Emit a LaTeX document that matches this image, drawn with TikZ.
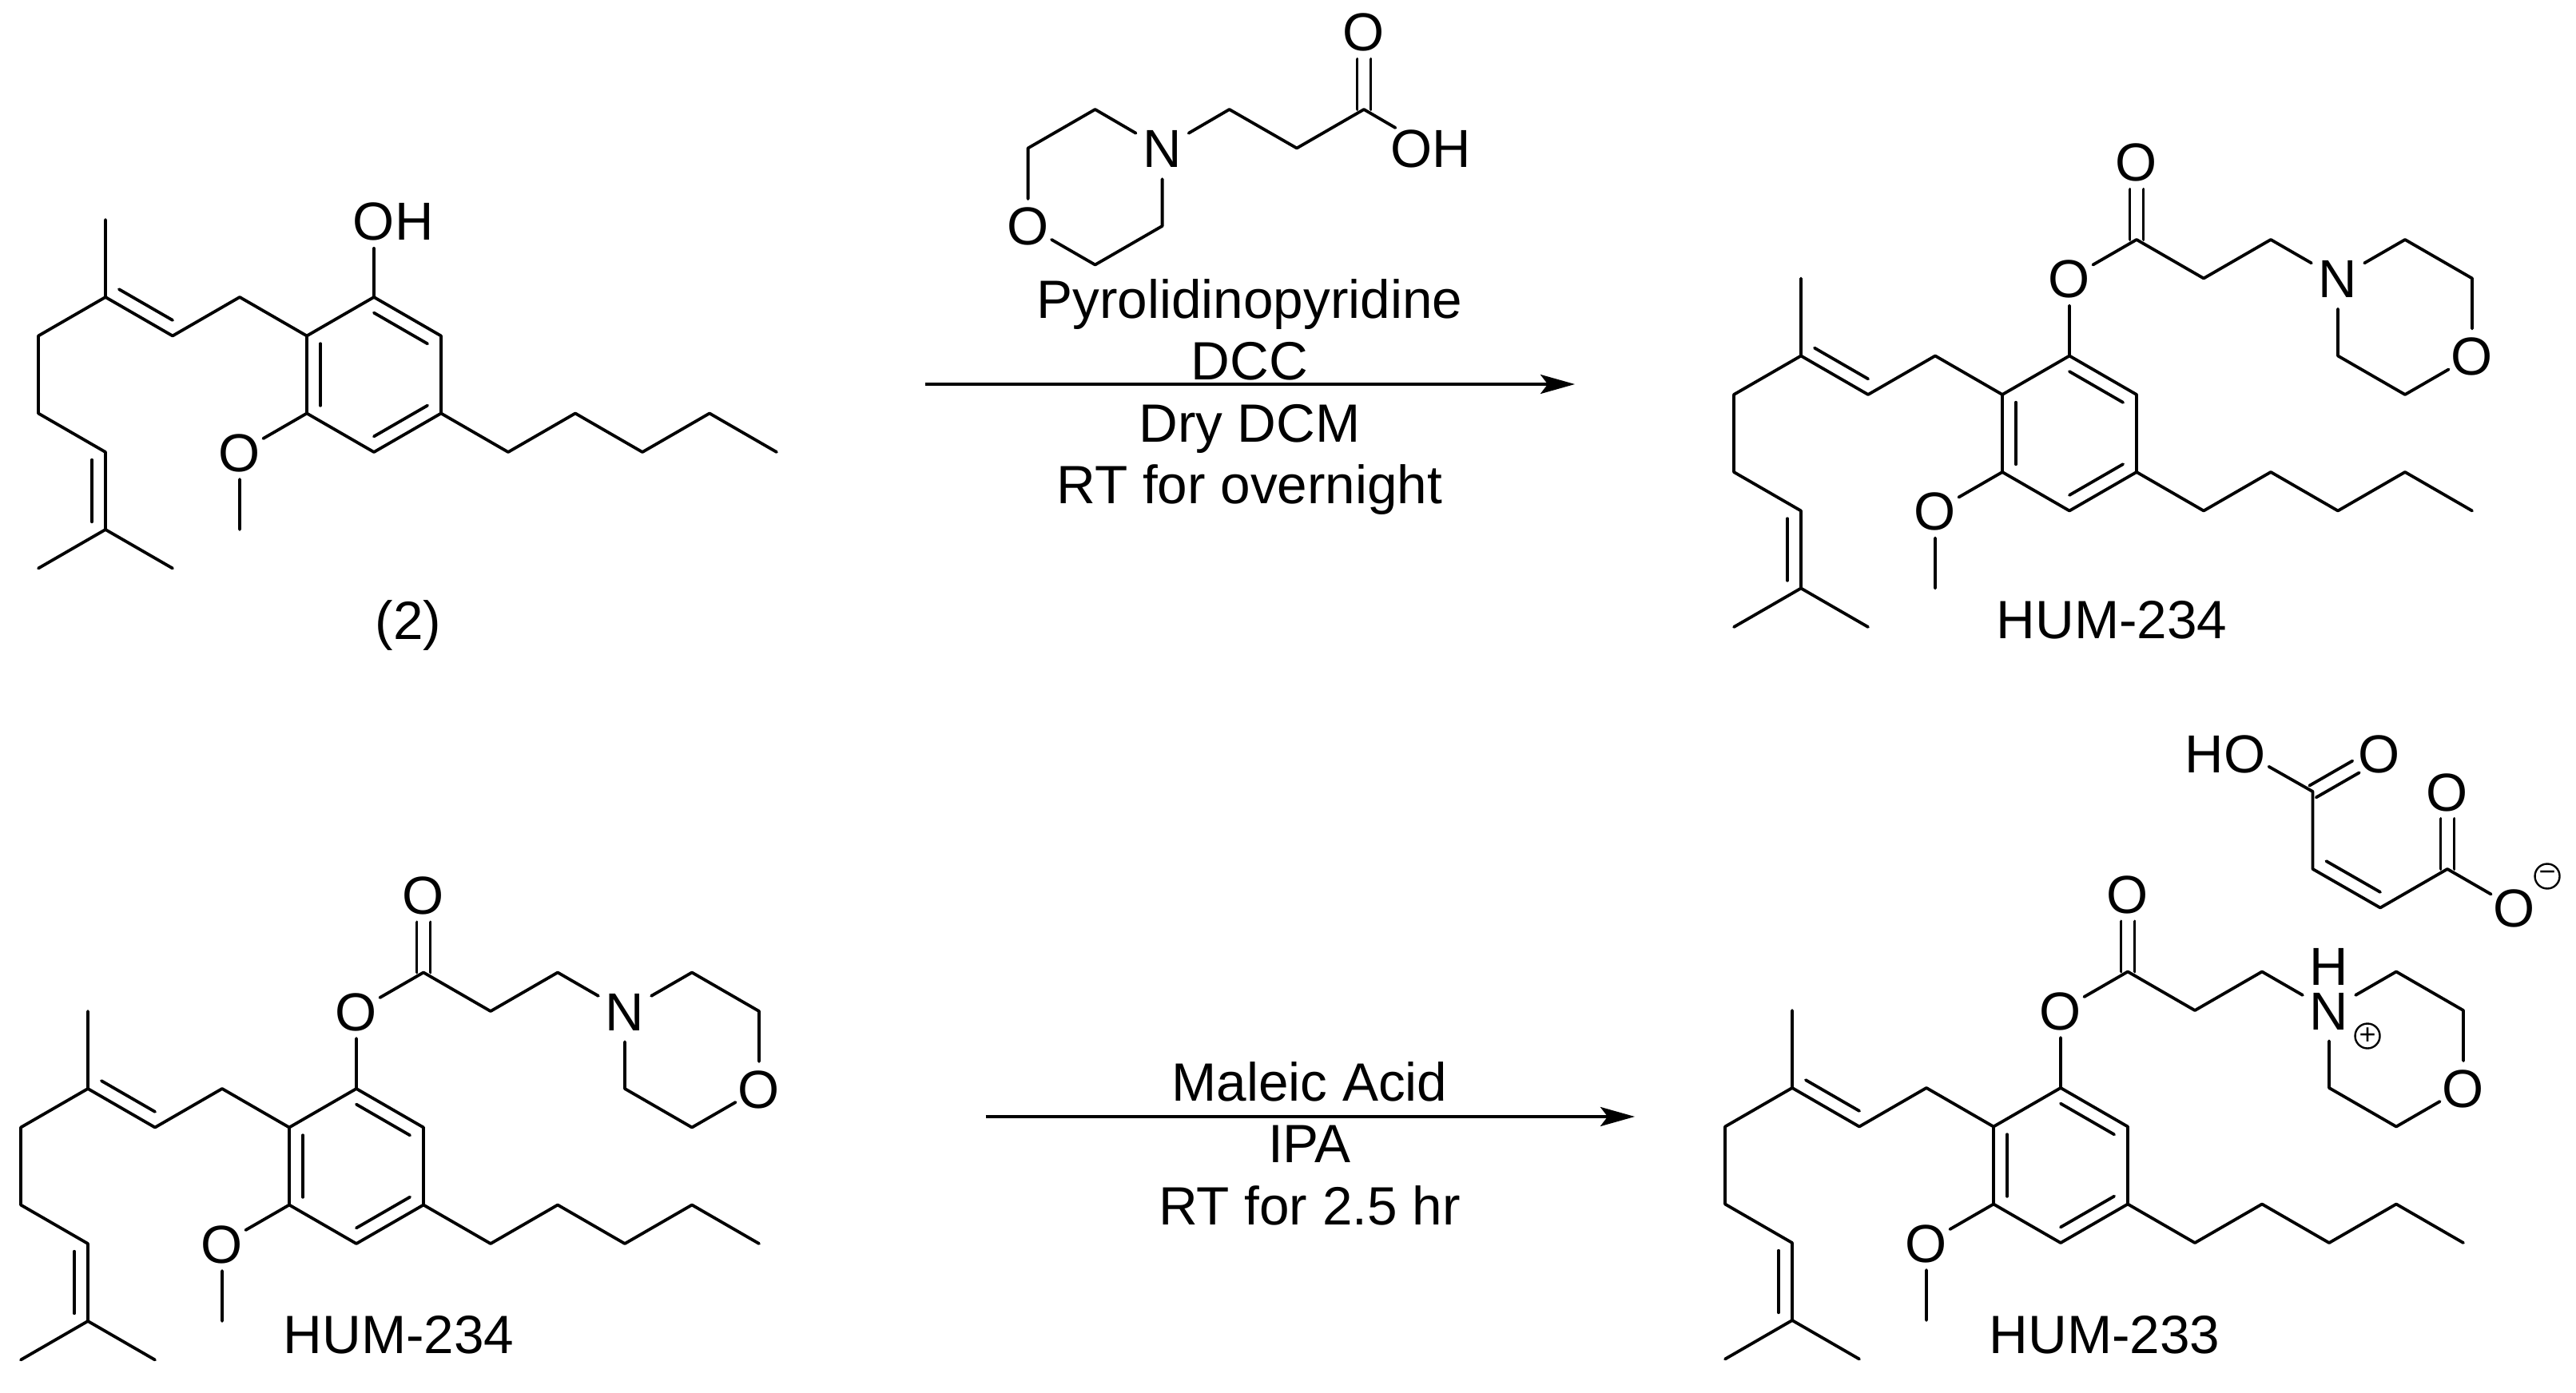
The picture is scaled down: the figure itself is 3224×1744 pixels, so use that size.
\documentclass[tikz,border=0pt]{standalone}
\usepackage{fontspec}
\setmainfont{Liberation Sans}
\usetikzlibrary{calc, arrows.meta}
\newcommand{\dbond}[2]{\draw[bond] ($(#1)!.1!(#2)!17pt!90:(#2)$) -- ($(#2)!.1!(#1)!17pt!-90:(#1)$);}
\newcommand{\cobond}[2]{
	\draw[bond, shorten >=34pt] ($(#1)!8.5pt!90:(#2)$) -- ($(#2)!8.5pt!-90:(#1)$);
	\draw[bond, shorten >=34pt] ($(#1)!8.5pt!-90:(#2)$) -- ($(#2)!8.5pt!90:(#1)$);
}

\begin{document}
\begin{tikzpicture}[x=1pt, y=-1pt]
\tikzset{
bond/.style={line width=3.8pt, line cap=round, line join=round}, % every skeleton line
atom/.style={circle, inner sep=-1pt, outer sep=0pt, text height=48pt, text depth=0pt, font=\fontsize{67}{67}\selectfont}, % the bonds stop at the circle
txt/.style={inner sep=0pt, text height=48pt, text depth=14pt, font=\fontsize{67.5}{67.5}\selectfont},
chg/.style={circle, draw, line width=2.4pt, minimum size=31pt, inner sep=0pt, font=\fontsize{36}{36}\selectfont},
rxn/.style={line width=3.7pt, -{Stealth[length=43pt, width=24pt, inset=9pt]}},
% prenyl and pentyl substituted anisole, origin at the branching carbon
pics/cbg/.style={code={
	\coordinate (me) at (0,-97);
	\coordinate (c3) at (0,0);
	\coordinate (c4) at (84,48.5);
	\coordinate (c5) at (168,0);
	\coordinate (r1) at (252,48.5);
	\coordinate (r2) at (336,0);
	\coordinate (r3) at (420,48.5);
	\coordinate (r4) at (420,145.5);
	\coordinate (r5) at (336,194);
	\coordinate (r6) at (252,145.5);
	\node[atom] (om) at (168,194) {O};
	\coordinate (mm) at (168,291);
	\coordinate (p1) at (504,194);
	\coordinate (p2) at (588,145.5);
	\coordinate (p3) at (672,194);
	\coordinate (p4) at (756,145.5);
	\coordinate (p5) at (840,194);
	\coordinate (l1) at (-84,48.5);
	\coordinate (l2) at (-84,145.5);
	\coordinate (l3) at (0,194);
	\coordinate (l4) at (0,291);
	\coordinate (l5) at (-84,339.5);
	\coordinate (l6) at (84,339.5);
	\draw[bond] (me) -- (c3) -- (c4) -- (c5) -- (r1) -- (r2) -- (r3) -- (r4) -- (r5) -- (r6) -- (r1);
	\draw[bond] (r4) -- (p1) -- (p2) -- (p3) -- (p4) -- (p5);
	\draw[bond] (c3) -- (l1) -- (l2) -- (l3) -- (l4) -- (l5);
	\draw[bond] (l4) -- (l6);
	\draw[bond] (r6) -- (om) -- (mm);
	\dbond{c3}{c4}
	\dbond{r3}{r2}
	\dbond{r1}{r6}
	\dbond{r5}{r4}
	\dbond{l4}{l3}
}},
% ester arm with morpholine, same origin as cbg
pics/arm/.style={code={
	\node[atom] (eo) at (336,-97) {O};
	\coordinate (ec) at (420,-145.5);
	\node[atom] (co) at (420,-242.5) {O};
	\coordinate (h1) at (504,-97);
	\coordinate (h2) at (588,-145.5);
	\node[atom, inner sep=3pt] (n) at (672,-97) {N};
	\coordinate (m1) at (756,-145.5);
	\coordinate (m2) at (840,-97);
	\node[atom] (mo) at (840,0) {O};
	\coordinate (m3) at (756,48.5);
	\coordinate (m4) at (672,0);
	\draw[bond] (r2) -- (eo) -- (ec) -- (h1) -- (h2) -- (n) -- (m1) -- (m2) -- (mo) -- (m3) -- (m4) -- (n);
	\cobond{ec}{co}
}},
}
	\useasboundingbox (0,0) rectangle (3224,1744);

	% top left
	\pic (a) at (132,372) {cbg};
	\node[atom] (aoh) at (468,277) {O};
	\node[atom, right of=aoh, node distance=51pt] (aohh) {H};
	\draw[bond] (ar2) -- (aoh);
	\node[txt] (alabel) at (511,783) {(2)};

	% reagent above the first arrow
	\node[atom, inner sep=3pt] (rn) at (1454.6,186) {N};
	\coordinate (rm1) at (1370.6,137);
	\coordinate (rm2) at (1286.6,185.5);
	\node[atom] (rmo) at (1286.6,283) {O};
	\coordinate (rm3) at (1370.6,331.5);
	\coordinate (rm4) at (1454.6,283);
	\coordinate (rh1) at (1538.6,137);
	\coordinate (rh2) at (1623,185.5);
	\coordinate (rc) at (1707,137);
	\node[atom] (ro) at (1707,40) {O};
	\node[atom, rectangle, inner sep=2pt] (roh) at (1791,186) {OH};
	\draw[bond] (rn) -- (rm1) -- (rm2) -- (rmo) -- (rm3) -- (rm4) -- (rn);
	\draw[bond] (rn) -- (rh1) -- (rh2) -- (rc) -- (roh);
	\cobond{rc}{ro}

	% first arrow
	\coordinate (s1) at (1157.5,481);
	\coordinate (e1) at (1971,481);
	\draw[rxn] (s1) -- (e1);
	\node[txt] (t1) at (1564,381) {Pyrolidinopyridine};
	\node[txt, below of=t1, node distance=77.5pt] (t2) {DCC};
	\node[txt, below of=t2, node distance=77.5pt] (t3) {Dry DCM};
	\node[txt, below of=t3, node distance=77.5pt] (t4) {RT for overnight};

	% top right
	\pic (b) at (2254,445.5) {cbg};
	\pic (b) at (2254,445.5) {arm};
	\node[txt] (blabel) at (2643,782.5) {HUM-234};

	% bottom left
	\pic (c) at (110,1363) {cbg};
	\pic (c) at (110,1363) {arm};
	\node[txt] (clabel) at (499,1677) {HUM-234};

	% second arrow
	\coordinate (s2) at (1233.7,1398);
	\coordinate (e2) at (2046,1398);
	\draw[rxn] (s2) -- (e2);
	\node[txt] (u1) at (1639,1361) {Maleic Acid};
	\node[txt, below of=u1, node distance=77.5pt] (u2) {IPA};
	\node[txt, below of=u2, node distance=77.5pt] (u3) {RT for 2.5 hr};

	% bottom right with the salt
	\pic (d) at (2243,1362) {cbg};
	\pic (d) at (2243,1362) {arm};
	\node[atom, above of=dn, node distance=56pt] (dnh) {H};
	\node[chg] (dplus) at ($(dn)+(48,32)$) {+};
	\node[txt] (dlabel) at (2634,1677) {HUM-233};

	% maleate
	\coordinate (k1) at (2894.5,991);
	\coordinate (k2) at (2894.5,1088);
	\coordinate (k3) at (2979,1136.5);
	\coordinate (k4) at (3063,1088);
	\node[atom] (koh) at (2810,943) {O};
	\node[atom, left of=koh, node distance=51pt] (kohh) {H};
	\node[atom] (ko1) at (2978,943) {O};
	\node[atom] (ko2) at (3063,991) {O};
	\node[atom] (ko3) at (3147,1136.5) {O};
	\node[chg] (kminus) at (3188,1097) {−};
	\draw[bond] (koh) -- (k1) -- (k2) -- (k3) -- (k4) -- (ko3);
	\dbond{k2}{k3}
	\cobond{k1}{ko1}
	\cobond{k4}{ko2}
\end{tikzpicture}
\end{document}
